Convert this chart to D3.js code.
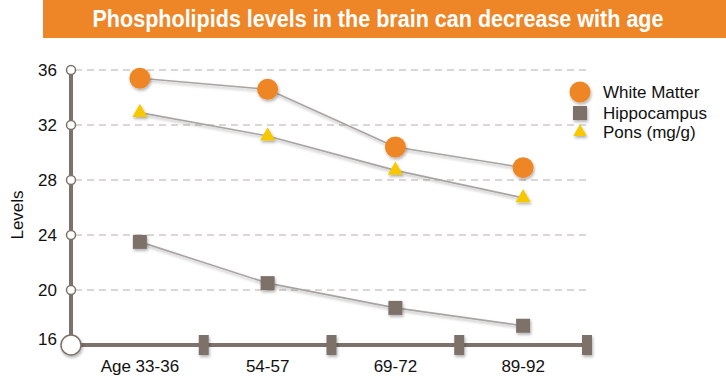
<!DOCTYPE html>
<html>
<head>
<meta charset="utf-8">
<script src="https://cdn.jsdelivr.net/npm/d3@7"></script>
<style>
  body { margin: 0; background: #fff; }
  text { font-family: "Liberation Sans", Arial, sans-serif; }
</style>
</head>
<body>
<svg width="726" height="385"></svg>
<script>
// data
var ages = ["Age 33-36", "54-57", "69-72", "89-92"];
var whiteMatter = [35.4, 34.6, 30.4, 28.9];
var hippocampus = [23.5, 20.5, 18.7, 17.4];
var pons = [32.9, 31.2, 28.7, 26.7];
var yTicks = [16, 20, 24, 28, 32, 36];
var legendNames = ["White Matter", "Hippocampus", "Pons (mg/g)"];

var orange = "#ee8627", brown = "#7d716b", yellow = "#f7c800";

var svg = d3.select("svg");

var defs = svg.append("defs");
var f = defs.append("filter").attr("id", "shadow")
    .attr("x", "-50%").attr("y", "-50%").attr("width", "200%").attr("height", "200%");
f.append("feDropShadow").attr("dx", 1).attr("dy", 2).attr("stdDeviation", 1.5)
    .attr("flood-color", "#000").attr("flood-opacity", 0.3);

// title bar
svg.append("rect").attr("x", 43).attr("y", 0).attr("width", 683).attr("height", 38)
    .attr("fill", orange);
svg.append("text").attr("x", 378).attr("y", 27).attr("text-anchor", "middle")
    .attr("fill", "#fff").attr("font-size", 23).attr("font-weight", "bold")
    .attr("textLength", 571).attr("lengthAdjust", "spacingAndGlyphs")
    .text("Phospholipids levels in the brain can decrease with age");

var x0 = 71, x1 = 587, yTop = 70, yBot = 345;

var x = d3.scaleBand().domain(ages).range([76, 587]).padding(0);
var y = d3.scaleLinear().domain([16, 36]).range([yBot, yTop]);

// gridlines
svg.append("g").selectAll("line")
    .data(yTicks.filter(function(d) { return d > 16; }))
    .enter().append("line")
    .attr("x1", x0 + 4).attr("x2", 590)
    .attr("y1", function(d) { return y(d); })
    .attr("y2", function(d) { return y(d); })
    .attr("stroke", "#cfcaca").attr("stroke-width", 1.3)
    .attr("stroke-dasharray", "7,5");

// y axis with d3 axis, then restyled
var yAxis = svg.append("g").attr("transform", "translate(" + x0 + ",0)")
    .call(d3.axisLeft(y).tickValues(yTicks).tickSize(0).tickPadding(14));
yAxis.select(".domain").remove();
yAxis.selectAll("text").attr("font-size", 17).attr("fill", "#111")
    .attr("font-family", "Liberation Sans, Arial, sans-serif")
    .attr("dy", function(d) { return d === 16 ? "-0.05em" : "0.32em"; });

svg.append("line").attr("x1", x0).attr("x2", x0).attr("y1", yTop).attr("y2", yBot)
    .attr("stroke", brown).attr("stroke-width", 4);

// x axis line
svg.append("line").attr("x1", x0).attr("x2", x1).attr("y1", yBot).attr("y2", yBot)
    .attr("stroke", brown).attr("stroke-width", 4);

// square ticks on x axis at band edges
svg.append("g").selectAll("rect")
    .data(ages).enter().append("rect")
    .attr("x", function(d) { return x(d) + x.bandwidth() - 5; })
    .attr("y", yBot - 10).attr("width", 10).attr("height", 20)
    .attr("fill", brown).attr("filter", "url(#shadow)");

// x labels
svg.append("g").selectAll("text")
    .data(ages).enter().append("text")
    .attr("x", function(d) { return x(d) + x.bandwidth() / 2; })
    .attr("y", 372).attr("text-anchor", "middle")
    .attr("font-size", 17).attr("fill", "#111")
    .text(function(d) { return d; });

// small circles on y axis ticks
svg.append("g").selectAll("circle")
    .data(yTicks.filter(function(d) { return d > 16; }))
    .enter().append("circle")
    .attr("cx", x0).attr("cy", function(d) { return y(d); }).attr("r", 4.5)
    .attr("fill", "#fff").attr("stroke", brown).attr("stroke-width", 1.5);

// origin circle
svg.append("circle").attr("cx", x0).attr("cy", yBot).attr("r", 10)
    .attr("fill", "#fff").attr("stroke", brown).attr("stroke-width", 1.5)
    .attr("filter", "url(#shadow)");

// y title
svg.append("text").attr("transform", "translate(23,215) rotate(-90)")
    .attr("text-anchor", "middle").attr("font-size", 17).attr("fill", "#111")
    .text("Levels");

var cx = function(d, i) { return x(ages[i]) + x.bandwidth() / 2; };
var line = d3.line().x(function(d, i) { return cx(d, i); }).y(function(d) { return y(d); });

[whiteMatter, hippocampus, pons].forEach(function(s) {
    svg.append("path").datum(s).attr("d", line)
        .attr("fill", "none").attr("stroke", "#a8a4a2").attr("stroke-width", 1.6)
        .attr("filter", "url(#shadow)");
});

var tri = d3.symbol().type(d3.symbolTriangle).size(100);

svg.append("g").selectAll("circle").data(whiteMatter).enter().append("circle")
    .attr("cx", cx).attr("cy", function(d) { return y(d); }).attr("r", 10.5)
    .attr("fill", orange).attr("filter", "url(#shadow)");

svg.append("g").selectAll("rect").data(hippocampus).enter().append("rect")
    .attr("x", function(d, i) { return cx(d, i) - 7; })
    .attr("y", function(d) { return y(d) - 7; })
    .attr("width", 14).attr("height", 14)
    .attr("fill", brown).attr("filter", "url(#shadow)");

svg.append("g").selectAll("path").data(pons).enter().append("path")
    .attr("d", tri)
    .attr("transform", function(d, i) { return "translate(" + cx(d, i) + "," + y(d) + ")"; })
    .attr("fill", yellow).attr("filter", "url(#shadow)");

// legend
var lg = svg.append("g");
var ly = [92, 113, 132];
lg.append("circle").attr("cx", 580).attr("cy", ly[0]).attr("r", 10.5)
    .attr("fill", orange).attr("filter", "url(#shadow)");
lg.append("rect").attr("x", 573).attr("y", ly[1] - 7).attr("width", 14).attr("height", 14)
    .attr("fill", brown).attr("filter", "url(#shadow)");
lg.append("path").attr("d", d3.symbol().type(d3.symbolTriangle).size(80))
    .attr("transform", "translate(580," + ly[2] + ")")
    .attr("fill", yellow).attr("filter", "url(#shadow)");
lg.selectAll("text").data(legendNames).enter().append("text")
    .attr("x", 603).attr("y", function(d, i) { return ly[i] + 6; })
    .attr("font-size", 17).attr("fill", "#111")
    .text(function(d) { return d; });
</script>
</body>
</html>
